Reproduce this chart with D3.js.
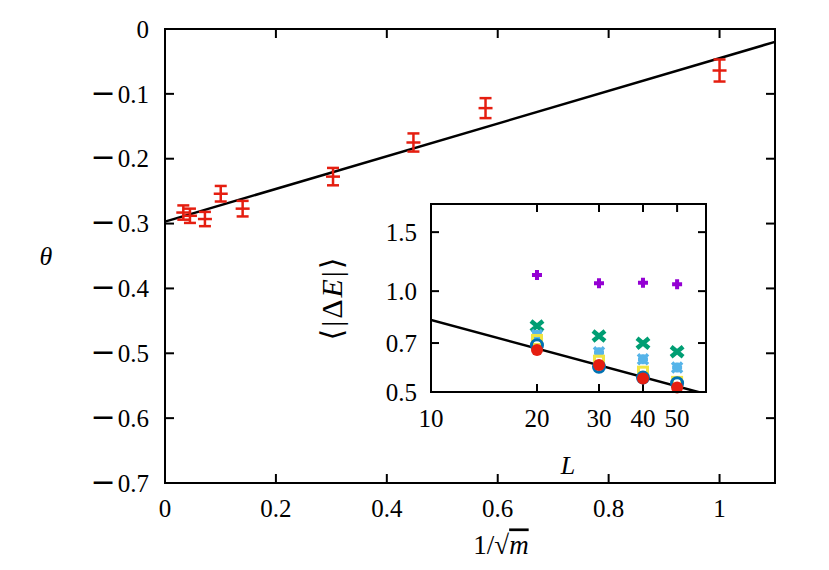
<!DOCTYPE html>
<html>
<head>
<meta charset="utf-8">
<script src="https://cdn.jsdelivr.net/npm/d3@7"></script>
<style>
  body { margin: 0; background: #fff; }
  text { font-family: "Liberation Serif", "DejaVu Serif", serif; fill: #000; }
</style>
</head>
<body>
<svg width="829" height="570"></svg>
<script>
// main panel: theta vs 1/sqrt(m)
const invSqrtM = [0.033, 0.045, 0.072, 0.1005, 0.140, 0.303, 0.448, 0.578, 1.0]
const theta    = [-0.283, -0.288, -0.293, -0.254, -0.277, -0.2276, -0.175, -0.122, -0.064]
const thetaErr = [0.011, 0.011, 0.011, 0.012, 0.012, 0.0134, 0.014, 0.0154, 0.017]
const fitMain  = [-0.297, 0.252]   // intercept, slope

const xTicks = [0, 0.2, 0.4, 0.6, 0.8, 1]
const yTicks = [0, -0.1, -0.2, -0.3, -0.4, -0.5, -0.6, -0.7]

// inset: <|dE|> vs L (log-log)
const Ls = [20, 30, 40, 50]
const seriesPlus   = [1.117, 1.056, 1.060, 1.049]
const seriesX      = [0.787, 0.735, 0.699, 0.659]
const seriesStar   = [0.740, 0.657, 0.626, 0.592]
const seriesSquare = [0.715, 0.620, 0.575, 0.536]
const seriesRing   = [0.690, 0.595, 0.552, 0.531]
const seriesDot    = [0.667, 0.602, 0.549, 0.516]
const fitInset     = [0.82, -0.283]  // value at L=10, exponent

const insetXTicks = [10, 20, 30, 40, 50]
const insetYTicks = [0.5, 0.7, 1.0, 1.5]
const insetYLabels = ['0.5', '0.7', '1.0', '1.5']

const svg = d3.select('svg')
const fs = 25

// ---------- main plot ----------
const x = d3.scaleLinear().domain([0, 1.1]).range([165, 775])
const y = d3.scaleLinear().domain([-0.7, 0]).range([483, 29])

const g = svg.append('g')

g.append('line')
  .attr('x1', x(0)).attr('y1', y(fitMain[0]))
  .attr('x2', x(1.1)).attr('y2', y(fitMain[0] + fitMain[1] * 1.1))
  .attr('stroke', '#000').attr('stroke-width', 2.5)

const red = '#e51e10'
const pts = g.append('g').selectAll('g')
  .data(invSqrtM.map((v, i) => ({ x: v, y: theta[i], e: thetaErr[i] })))
  .enter().append('g')
  .attr('stroke', red).attr('stroke-width', 2.5)

pts.append('line')
  .attr('x1', d => x(d.x)).attr('x2', d => x(d.x))
  .attr('y1', d => y(d.y - d.e)).attr('y2', d => y(d.y + d.e))
pts.append('line')
  .attr('x1', d => x(d.x) - 7).attr('x2', d => x(d.x) + 7)
  .attr('y1', d => y(d.y)).attr('y2', d => y(d.y))
pts.append('line')
  .attr('x1', d => x(d.x) - 6).attr('x2', d => x(d.x) + 6)
  .attr('y1', d => y(d.y - d.e)).attr('y2', d => y(d.y - d.e))
pts.append('line')
  .attr('x1', d => x(d.x) - 6).attr('x2', d => x(d.x) + 6)
  .attr('y1', d => y(d.y + d.e)).attr('y2', d => y(d.y + d.e))

// ticks (inward, mirrored)
const tk = 9
const tickG = g.append('g').attr('stroke', '#000').attr('stroke-width', 2)
yTicks.forEach(t => {
  tickG.append('line').attr('x1', x(0)).attr('x2', x(0) + tk).attr('y1', y(t)).attr('y2', y(t))
  tickG.append('line').attr('x1', x(1.1)).attr('x2', x(1.1) - tk).attr('y1', y(t)).attr('y2', y(t))
})
xTicks.forEach(t => {
  tickG.append('line').attr('x1', x(t)).attr('x2', x(t)).attr('y1', y(-0.7)).attr('y2', y(-0.7) - tk)
  tickG.append('line').attr('x1', x(t)).attr('x2', x(t)).attr('y1', y(0)).attr('y2', y(0) + tk)
})

g.append('rect')
  .attr('x', x(0)).attr('y', y(0))
  .attr('width', x(1.1) - x(0)).attr('height', y(-0.7) - y(0))
  .attr('fill', 'none').attr('stroke', '#000').attr('stroke-width', 2)

const yl = g.append('g').selectAll('text').data(yTicks).enter().append('text')
  .attr('x', x(0) - 16).attr('y', d => y(d)).attr('dy', '0.35em')
  .attr('text-anchor', 'end').attr('font-size', fs)
yl.filter(d => d < 0).append('tspan')
  .attr('font-family', '"DejaVu Sans"').attr('font-size', 30)
  .text('\u2212')
yl.append('tspan').attr('dx', d => d < 0 ? 2 : 0).text(d => Math.abs(d).toString())

g.append('g').selectAll('text').data(xTicks).enter().append('text')
  .attr('x', d => x(d)).attr('y', y(-0.7) + 25).attr('dy', '0.35em')
  .attr('text-anchor', 'middle').attr('font-size', fs)
  .text(d => d.toString())

g.append('text')
  .attr('x', 46).attr('y', 256)
  .attr('text-anchor', 'middle').attr('dy', '0.35em')
  .attr('font-size', 26).attr('font-style', 'italic')
  .text('\u03b8')

const xl = g.append('text')
  .attr('x', 501).attr('y', 545).attr('dy', '0.35em')
  .attr('text-anchor', 'middle').attr('font-size', 27)
xl.append('tspan').text('1/\u221a')
xl.append('tspan').attr('font-style', 'italic').attr('text-decoration', 'overline').text('m')

// ---------- inset ----------
const ix = d3.scaleLog().domain([10, 60.4]).range([431, 706])
const iy = d3.scaleLog().domain([0.5, 1.82]).range([392, 204])

const ig = svg.append('g')
ig.append('rect')
  .attr('x', ix(10)).attr('y', iy(1.82))
  .attr('width', ix(60.4) - ix(10)).attr('height', iy(0.5) - iy(1.82))
  .attr('fill', '#fff')

ig.append('defs').append('clipPath').attr('id', 'iclip')
  .append('rect')
  .attr('x', ix(10)).attr('y', iy(1.82))
  .attr('width', ix(60.4) - ix(10)).attr('height', iy(0.5) - iy(1.82))

const fitL = [10, 60.4]
ig.append('path')
  .attr('clip-path', 'url(#iclip)')
  .attr('d', d3.line()
    .x(L => ix(L))
    .y(L => iy(fitInset[0] * Math.pow(L / 10, fitInset[1])))(fitL))
  .attr('stroke', '#000').attr('stroke-width', 2.5).attr('fill', 'none')

const itk = 8
const itG = ig.append('g').attr('stroke', '#000').attr('stroke-width', 2)
insetYTicks.forEach(t => {
  itG.append('line').attr('x1', ix(10)).attr('x2', ix(10) + itk).attr('y1', iy(t)).attr('y2', iy(t))
  itG.append('line').attr('x1', ix(60.4)).attr('x2', ix(60.4) - itk).attr('y1', iy(t)).attr('y2', iy(t))
})
insetXTicks.forEach(t => {
  itG.append('line').attr('x1', ix(t)).attr('x2', ix(t)).attr('y1', iy(0.5)).attr('y2', iy(0.5) - itk)
  itG.append('line').attr('x1', ix(t)).attr('x2', ix(t)).attr('y1', iy(1.82)).attr('y2', iy(1.82) + itk)
})

function markers (vals, color, draw) {
  const m = ig.append('g')
  vals.forEach((v, i) => draw(m.append('g')
    .attr('transform', 'translate(' + ix(Ls[i]) + ',' + iy(v) + ')'), color))
}
const s = 5
markers(seriesPlus, '#9400d3', (m, c) => {
  m.append('path').attr('d', `M${-s},0H${s}M0,${-s}V${s}`).attr('stroke', c).attr('stroke-width', 4)
})
markers(seriesX, '#009e73', (m, c) => {
  m.append('path').attr('d', `M${-s - 1},${-s}L${s + 1},${s}M${-s - 1},${s}L${s + 1},${-s}`).attr('stroke', c).attr('stroke-width', 4.5)
})
markers(seriesStar, '#56b4e9', (m, c) => {
  m.append('path').attr('d', `M${-s},0H${s}M0,${-s}V${s}M${-s},${-s}L${s},${s}M${-s},${s}L${s},${-s}`)
    .attr('stroke', c).attr('stroke-width', 3.5)
})
markers(seriesSquare, '#f0e442', (m, c) => {
  m.append('rect').attr('x', -4.5).attr('y', -4.5).attr('width', 9).attr('height', 9)
    .attr('fill', 'none').attr('stroke', c).attr('stroke-width', 3)
})
markers(seriesRing, '#0072b2', (m, c) => {
  m.append('circle').attr('r', 5.5).attr('fill', 'none').attr('stroke', c).attr('stroke-width', 3)
})
markers(seriesDot, red, (m, c) => {
  m.append('circle').attr('r', 6).attr('fill', c)
})

ig.append('rect')
  .attr('x', ix(10)).attr('y', iy(1.82))
  .attr('width', ix(60.4) - ix(10)).attr('height', iy(0.5) - iy(1.82))
  .attr('fill', 'none').attr('stroke', '#000').attr('stroke-width', 2)

ig.append('g').selectAll('text').data(insetYTicks).enter().append('text')
  .attr('x', ix(10) - 14).attr('y', d => iy(d)).attr('dy', '0.35em')
  .attr('text-anchor', 'end').attr('font-size', fs)
  .text((d, i) => insetYLabels[i])

ig.append('g').selectAll('text').data(insetXTicks).enter().append('text')
  .attr('x', d => ix(d)).attr('y', iy(0.5) + 26).attr('dy', '0.35em')
  .attr('text-anchor', 'middle').attr('font-size', fs)
  .text(d => d.toString())

ig.append('text')
  .attr('x', 568).attr('y', 465).attr('dy', '0.35em')
  .attr('text-anchor', 'middle').attr('font-size', 26).attr('font-style', 'italic')
  .text('L')

const il = ig.append('text')
  .attr('transform', 'translate(331,298) rotate(-90)')
  .attr('dy', '0.35em').attr('text-anchor', 'middle').attr('font-size', 30)
  .attr('letter-spacing', 2)
il.append('tspan').text('\u27e8|\u0394')
il.append('tspan').attr('font-style', 'italic').text('E')
il.append('tspan').text('|\u27e9')
</script>
</body>
</html>
